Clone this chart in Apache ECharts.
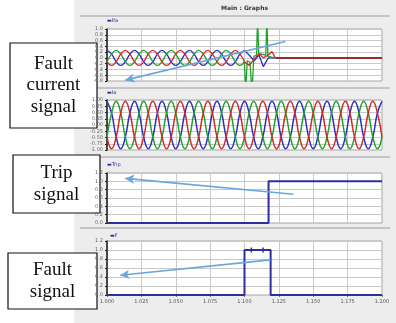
<!DOCTYPE html>
<html>
<head>
<meta charset="utf-8">
<script src="https://cdn.jsdelivr.net/npm/echarts@6/dist/echarts.min.js"></script>
<style>
	html, body { margin: 0; padding: 0; background: #fff; }
	#chart {
		width: 396px;
		height: 323px;
		background: linear-gradient( to right, #fff 0, #fff 74px, #ededed 74px );
	}
</style>
</head>
<body>
<div id="chart"></div>
<script>
// time axis (s), 50 Hz waveforms sampled every 60 deg
const timeMin = 1.0;
const timeMax = 1.2;
const timeStep = 0.025;
const sampleStep = 0.02 / 6;
const faultStart = 1.1;

// plot 1 - fault current, before the fault (kA)
const blueFaultPre = [
	0.26, 0.13, -0.13, -0.26, -0.13, 0.13,
	0.26, 0.13, -0.13, -0.26, -0.13, 0.13,
	0.26, 0.13, -0.13, -0.26, -0.13, 0.13,
	0.26, 0.13, -0.13, -0.26, -0.13, 0.13,
	0.26, 0.13, -0.13, -0.26, -0.13, 0.13,
	0.26
];
const greenFaultPre = [
	-0.13, 0.13, 0.26, 0.13, -0.13, -0.26,
	-0.13, 0.13, 0.26, 0.13, -0.13, -0.26,
	-0.13, 0.13, 0.26, 0.13, -0.13, -0.26,
	-0.13, 0.13, 0.26, 0.13, -0.13, -0.26,
	-0.13, 0.13, 0.26, 0.13, -0.13, -0.26,
	-0.13
];
const redFaultPre = [
	-0.13, -0.26, -0.13, 0.13, 0.26, 0.13,
	-0.13, -0.26, -0.13, 0.13, 0.26, 0.13,
	-0.13, -0.26, -0.13, 0.13, 0.26, 0.13,
	-0.13, -0.26, -0.13, 0.13, 0.26, 0.13,
	-0.13, -0.26, -0.13, 0.13, 0.26, 0.13,
	-0.13
];
// plot 1 - during and after the fault [time, kA]
const blueFaultPost = [
	[ 1.1, 0.26 ], [ 1.1033, 0.1 ], [ 1.107, -0.1 ], [ 1.1105, 0.1 ],
	[ 1.1137, -0.3 ], [ 1.1173, 0 ], [ 1.1224, 0 ]
];
const greenFaultPost = [
	[ 1.1, -0.13 ], [ 1.1008, -1.2 ], [ 1.102, -0.1 ], [ 1.104, -0.15 ],
	[ 1.1054, -1.2 ], [ 1.1068, 0.05 ], [ 1.1088, 0.1 ], [ 1.1095, 1.4 ],
	[ 1.1103, 0.15 ], [ 1.1155, 0.1 ], [ 1.1163, 1.4 ], [ 1.117, 0.05 ],
	[ 1.1224, 0 ]
];
const redFaultPost = [
	[ 1.1, -0.13 ], [ 1.1033, -0.26 ], [ 1.107, -0.05 ], [ 1.1105, 0.15 ],
	[ 1.1137, 0 ], [ 1.1173, 0.1 ], [ 1.12, 0.22 ], [ 1.1224, 0 ]
];
const redCleared = [ [ 1.1224, 0 ], [ 1.2, 0 ] ];

// plot 2 - source currents (kA)
const blueSource = [
	0.95, 0.48, -0.48, -0.95, -0.48, 0.48,
	0.95, 0.48, -0.48, -0.95, -0.48, 0.48,
	0.95, 0.48, -0.48, -0.95, -0.48, 0.48,
	0.95, 0.48, -0.48, -0.95, -0.48, 0.48,
	0.95, 0.48, -0.48, -0.95, -0.48, 0.48,
	0.95, 0.48, -0.48, -0.95, -0.48, 0.48,
	0.95, 0.48, -0.48, -0.95, -0.48, 0.48,
	0.95, 0.48, -0.48, -0.95, -0.48, 0.48,
	0.95, 0.48, -0.48, -0.95, -0.48, 0.48,
	0.95, 0.48, -0.48, -0.95, -0.48, 0.48,
	0.95
];
const greenSource = [
	-0.48, 0.48, 0.95, 0.48, -0.48, -0.95,
	-0.48, 0.48, 0.95, 0.48, -0.48, -0.95,
	-0.48, 0.48, 0.95, 0.48, -0.48, -0.95,
	-0.48, 0.48, 0.95, 0.48, -0.48, -0.95,
	-0.48, 0.48, 0.95, 0.48, -0.48, -0.95,
	-0.48, 0.48, 0.95, 0.48, -0.48, -0.95,
	-0.48, 0.48, 0.95, 0.48, -0.48, -0.95,
	-0.48, 0.48, 0.95, 0.48, -0.48, -0.95,
	-0.48, 0.48, 0.95, 0.48, -0.48, -0.95,
	-0.48, 0.48, 0.95, 0.48, -0.48, -0.95,
	-0.48
];
const redSource = [
	-0.48, -0.95, -0.48, 0.48, 0.95, 0.48,
	-0.48, -0.95, -0.48, 0.48, 0.95, 0.48,
	-0.48, -0.95, -0.48, 0.48, 0.95, 0.48,
	-0.48, -0.95, -0.48, 0.48, 0.95, 0.48,
	-0.48, -0.95, -0.48, 0.48, 0.95, 0.48,
	-0.48, -0.95, -0.48, 0.48, 0.95, 0.48,
	-0.48, -0.95, -0.48, 0.48, 0.95, 0.48,
	-0.48, -0.95, -0.48, 0.48, 0.95, 0.48,
	-0.48, -0.95, -0.48, 0.48, 0.95, 0.48,
	-0.48, -0.95, -0.48, 0.48, 0.95, 0.48,
	-0.48
];

// plot 3 and 4 - logic signals [time, value]
const tripSignal = [ [ 1.0, 0 ], [ 1.1175, 0 ], [ 1.1175, 1 ], [ 1.2, 1 ] ];
const faultSignal = [
	[ 1.0, 0 ], [ 1.1, 0 ], [ 1.1, 1 ], [ 1.105, 1 ], [ 1.1135, 1 ],
	[ 1.119, 1 ], [ 1.119, 0 ], [ 1.2, 0 ]
];
const faultSignalMarks = [ 1.105, 1.1135 ];

// arrows pointing from the plots to the callout boxes [from, to]
const arrowCurrent = [ [ 1.1297, 0.57 ], [ 1.0133, -0.77 ] ];
const arrowTrip = [ [ 1.1356, 0.69 ], [ 1.0133, 1.07 ] ];
const arrowFault = [ [ 1.1188, 0.78 ], [ 1.0097, 0.44 ] ];

const colors = {
	blue: '#2b2fbf',
	green: '#22a12a',
	red: '#cf2a2a',
	darkRed: '#9c2b2b',
	logic: '#2e2f9c',
	arrow: '#6aa6dc',
	grid: '#c9c9c9'
};

const sampled = function ( values, start ) {
	return values.map( ( v, i ) => [ start + i * sampleStep, v ] );
};

const arrowLine = function ( pts ) {
	return {
		silent: true,
		symbol: [ 'none', 'arrow' ],
		symbolSize: [ 7, 9 ],
		label: { show: false },
		lineStyle: { color: colors.arrow, width: 1.6, type: 'solid' },
		data: [ [ { coord: pts[ 0 ] }, { coord: pts[ 1 ] } ] ]
	};
};

const grids = [
	{ top: 29, height: 52 },
	{ top: 100, height: 50 },
	{ top: 173, height: 50 },
	{ top: 241, height: 54 }
].map( ( g ) => ( {
	left: 107,
	right: 14,
	top: g.top,
	height: g.height,
	show: true,
	backgroundColor: '#fff',
	borderColor: '#a5a5a5',
	borderWidth: 1
} ) );

const xAxes = grids.map( ( g, i ) => ( {
	type: 'value',
	gridIndex: i,
	min: timeMin,
	max: timeMax,
	interval: timeStep,
	axisLine: { show: false },
	axisTick: { show: i === 3, length: 2, lineStyle: { color: '#777' } },
	axisLabel: {
		show: i === 3,
		fontSize: 5,
		color: '#555',
		margin: 4,
		fontFamily: 'DejaVu Sans',
		formatter: ( v ) => v.toFixed( 3 )
	},
	splitLine: { show: true, lineStyle: { color: colors.grid, width: 1 } }
} ) );

const yRanges = [
	{ min: -0.8, max: 1.0, interval: 0.2, digits: 1 },
	{ min: -1.0, max: 1.0, interval: 0.25, digits: 2 },
	{ min: 0, max: 1.2, interval: 0.2, digits: 1 },
	{ min: 0, max: 1.2, interval: 0.2, digits: 1 }
];

const yAxes = yRanges.map( ( r, i ) => ( {
	type: 'value',
	gridIndex: i,
	min: r.min,
	max: r.max,
	interval: r.interval,
	axisLine: { show: true, lineStyle: { color: '#1e1e1e', width: 1.5 } },
	axisTick: { show: true, length: 2, lineStyle: { color: '#1e1e1e' } },
	axisLabel: {
		fontSize: 5,
		color: '#666',
		margin: 4,
		fontFamily: 'DejaVu Sans',
		formatter: ( v ) => v.toFixed( r.digits )
	},
	splitLine: { show: true, lineStyle: { color: colors.grid, width: 1 } }
} ) );

const line = function ( idx, data, color, extra ) {
	return Object.assign( {
		type: 'line',
		xAxisIndex: idx,
		yAxisIndex: idx,
		data: data,
		symbol: 'none',
		showSymbol: false,
		animation: false,
		lineStyle: { color: color, width: 1.3 },
		itemStyle: { color: color }
	}, extra || {} );
};

const series = [
	// plot 1
	line( 0, sampled( blueFaultPre, timeMin ), colors.blue, { smooth: 0.5 } ),
	line( 0, sampled( greenFaultPre, timeMin ), colors.green, { smooth: 0.5 } ),
	line( 0, sampled( redFaultPre, timeMin ), colors.red, { smooth: 0.5 } ),
	line( 0, blueFaultPost, colors.blue ),
	line( 0, greenFaultPost, colors.green ),
	line( 0, redFaultPost, colors.red ),
	line( 0, redCleared, colors.darkRed, {
		lineStyle: { color: colors.darkRed, width: 2 },
		markLine: arrowLine( arrowCurrent )
	} ),
	// plot 2
	line( 1, sampled( blueSource, timeMin ), colors.blue, { smooth: 0.5, lineStyle: { color: colors.blue, width: 1.5 } } ),
	line( 1, sampled( greenSource, timeMin ), colors.green, { smooth: 0.5, lineStyle: { color: colors.green, width: 1.5 } } ),
	line( 1, sampled( redSource, timeMin ), colors.red, { smooth: 0.5, lineStyle: { color: colors.red, width: 1.5 } } ),
	// plot 3
	line( 2, tripSignal, colors.logic, {
		lineStyle: { color: colors.logic, width: 2 },
		markLine: arrowLine( arrowTrip )
	} ),
	// plot 4
	line( 3, faultSignal.map( ( p ) => (
		faultSignalMarks.indexOf( p[ 0 ] ) >= 0 ?
			{ value: p, symbol: 'rect', symbolSize: [ 1.5, 5 ] } :
			{ value: p }
	) ), colors.logic, {
		showSymbol: true,
		lineStyle: { color: colors.logic, width: 2 },
		markLine: arrowLine( arrowFault )
	} )
];

const tag = function ( x, y, text ) {
	return {
		type: 'text',
		left: x,
		top: y,
		style: {
			text: '\u25ac' + text,
			fontSize: 5,
			fill: '#2b2f9c',
			fontFamily: 'DejaVu Sans',
			textDecoration: 'underline'
		}
	};
};

const separator = function ( y ) {
	return {
		type: 'line',
		shape: { x1: 80, y1: y, x2: 390, y2: y },
		style: { stroke: '#9c9c9c', lineWidth: 1 }
	};
};

const callout = function ( x, y, w, h, lines ) {
	return {
		type: 'group',
		z: 100,
		children: [
			{
				type: 'rect',
				shape: { x: x, y: y, width: w, height: h },
				style: { fill: '#fff', stroke: '#111', lineWidth: 1.2 }
			},
			{
				type: 'text',
				x: x + w / 2,
				y: y + h / 2,
				style: {
					text: lines.join( '\n' ),
					align: 'center',
					verticalAlign: 'middle',
					fontSize: 19,
					lineHeight: 21.5,
					fontFamily: 'Liberation Serif',
					fill: '#111'
				}
			}
		]
	};
};

const chart = echarts.init( document.getElementById( 'chart' ), null, { renderer: 'canvas' } );

chart.setOption( {
	animation: false,
	grid: grids,
	xAxis: xAxes,
	yAxis: yAxes,
	series: series,
	graphic: [
		{
			type: 'text',
			left: 221,
			top: 5,
			style: { text: 'Main : Graphs', fontSize: 6, fontWeight: 'bold', fill: '#333', fontFamily: 'DejaVu Sans' }
		},
		separator( 16 ),
		separator( 88 ),
		separator( 157 ),
		separator( 228 ),
		tag( 107, 18, 'Ifa' ),
		tag( 107, 90, 'Ia' ),
		tag( 107, 162, 'Trip' ),
		tag( 110, 233, 'F' ),
		callout( 10, 43, 87, 85, [ 'Fault', 'current', 'signal' ] ),
		callout( 13, 155, 87, 58, [ 'Trip', 'signal' ] ),
		callout( 8, 253, 89, 56, [ 'Fault', 'signal' ] )
	]
} );
</script>
</body>
</html>
